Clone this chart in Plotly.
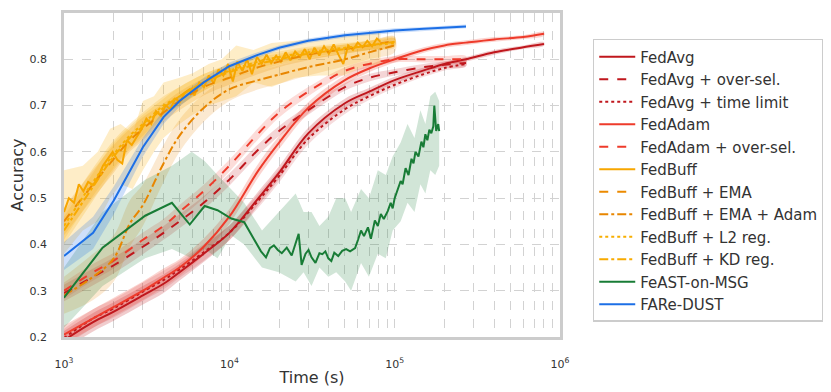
import plotly.graph_objects as go

# ---- data ----
# synchronous baselines share one time grid (s)
t_sync = [1000, 1500, 2000, 3000, 4000, 5000, 7000, 10000, 15000, 20000,
          30000, 50000, 70000, 100000, 150000, 200000, 270000, 400000, 600000, 800000]
fedavg = [0.193, 0.232, 0.255, 0.29, 0.315, 0.34, 0.38, 0.425, 0.50, 0.555,
          0.64, 0.705, 0.73, 0.755, 0.776, 0.79, 0.80, 0.815, 0.826, 0.833]
fedavg_sd = [0.02, 0.02, 0.02, 0.02, 0.02, 0.018, 0.018, 0.016, 0.015, 0.014,
             0.012, 0.01, 0.008, 0.007, 0.006, 0.005, 0.005, 0.005, 0.004, 0.004]
fedavg_os = [0.295, 0.33, 0.355, 0.395, 0.425, 0.45, 0.49, 0.54, 0.605, 0.645,
             0.69, 0.74, 0.76, 0.772, 0.783, 0.788, 0.792]
fedavg_tl = [0.198, 0.24, 0.262, 0.298, 0.323, 0.346, 0.383, 0.425, 0.495, 0.548,
             0.628, 0.692, 0.72, 0.745, 0.768, 0.781, 0.79]
fedadam = [0.205, 0.24, 0.265, 0.30, 0.328, 0.35, 0.395, 0.46, 0.56, 0.62,
           0.695, 0.755, 0.78, 0.80, 0.82, 0.83, 0.836, 0.843, 0.848, 0.855]
fedadam_os = [0.30, 0.34, 0.365, 0.41, 0.44, 0.47, 0.515, 0.57, 0.64, 0.685,
              0.73, 0.775, 0.79, 0.80, 0.80, 0.80, 0.80]
os_sd = [0.018, 0.018, 0.017, 0.016, 0.015, 0.015, 0.014, 0.013, 0.012, 0.011,
         0.01, 0.008, 0.008, 0.007, 0.007, 0.007, 0.007]

# asynchronous FedBuff variants
t_buff = [1000, 1500, 2000, 2500, 3000, 4000, 5000, 7000, 10000, 15000,
          20000, 30000, 50000, 70000, 100000]
fedbuff_ema = [0.45, 0.53, 0.585, 0.625, 0.65, 0.685, 0.71, 0.74, 0.76, 0.783,
               0.795, 0.81, 0.822, 0.83, 0.84]
fedbuff_ema_adam = [0.29, 0.33, 0.37, 0.445, 0.485, 0.575, 0.635, 0.695, 0.735, 0.755,
                    0.767, 0.783, 0.80, 0.815, 0.83]
fedbuff_l2 = [0.44, 0.535, 0.595, 0.635, 0.66, 0.70, 0.72, 0.75, 0.775, 0.795,
              0.805, 0.815, 0.825, 0.83, 0.835]
fedbuff_kd = [0.43, 0.525, 0.59, 0.63, 0.655, 0.695, 0.72, 0.75, 0.772, 0.79,
              0.80, 0.812, 0.822, 0.83, 0.838]
buff_sd = [0.03, 0.03, 0.03, 0.025, 0.025, 0.02, 0.02, 0.018, 0.015, 0.015,
           0.012, 0.012, 0.01, 0.01, 0.01]
ema_adam_sd = [0.04, 0.05, 0.05, 0.05, 0.045, 0.04, 0.035, 0.03, 0.025, 0.02,
               0.02, 0.018, 0.015, 0.015, 0.015]

t_fedbuff = [1000, 1070, 1150, 1230, 1310, 1400, 1500, 1600, 1720, 1840, 1970, 2100,
             2250, 2400, 2570, 2750, 2940, 3150, 3370, 3600, 3850, 4120, 4400, 4700,
             5030, 5380, 5750, 6150, 6580, 7030, 7520, 8040, 8600, 9200, 9830, 10500,
             11200, 12000, 12800, 13700, 14700, 15700, 16800, 17900, 19200, 20500,
             21900, 23400, 25000, 26800, 28600, 30600, 32700, 35000, 37400, 40000,
             42800, 45700, 48900, 52300, 55900, 59800, 63900, 68300, 73000, 78100, 82000]
fedbuff = [0.47, 0.50, 0.49, 0.53, 0.515, 0.535, 0.528, 0.545, 0.57, 0.585, 0.60, 0.583,
           0.575, 0.625, 0.615, 0.632, 0.648, 0.672, 0.66, 0.688, 0.678, 0.70, 0.692, 0.715,
           0.708, 0.728, 0.735, 0.722, 0.75, 0.74, 0.765, 0.748, 0.778, 0.765, 0.79, 0.752,
           0.795, 0.775, 0.80, 0.768, 0.805, 0.79, 0.81, 0.792, 0.808, 0.795,
           0.815, 0.798, 0.817, 0.805, 0.822, 0.80, 0.825, 0.808, 0.828, 0.812,
           0.832, 0.81, 0.79, 0.83, 0.82, 0.836, 0.826, 0.84, 0.828, 0.845, 0.838]
t_fedbuff_band = [1000, 1300, 1600, 1900, 2200, 2600, 3000, 3500, 4000, 5000, 6000,
                  7500, 9000, 11000, 14000, 18000, 25000, 35000, 50000, 65000, 82000]
fedbuff_hi = [0.56, 0.57, 0.60, 0.65, 0.66, 0.64, 0.71, 0.72, 0.75, 0.76, 0.77,
              0.79, 0.80, 0.83, 0.82, 0.835, 0.84, 0.845, 0.85, 0.855, 0.86]
fedbuff_lo = [0.38, 0.43, 0.45, 0.50, 0.53, 0.52, 0.56, 0.60, 0.63, 0.66, 0.68,
              0.70, 0.71, 0.72, 0.75, 0.74, 0.76, 0.765, 0.765, 0.785, 0.79]

# FeAST-on-MSG
t_feast = [1000, 1712, 3097, 4495, 5762, 7086, 8477, 10280, 12300, 14110, 15540, 16660,
           17600, 18600, 19650, 20770, 22250, 23840, 25190, 26260, 27360, 28920, 30130,
           31410, 33190, 35070, 36550, 38090, 39700, 41390, 43120, 45580, 48150, 50880,
           53760, 57620, 60050, 62590, 65230, 68920, 71840, 75900, 79100, 82460, 85940,
           90810, 94620, 97270, 100000, 104200, 108700, 111700, 116400, 121300, 126400,
           130000, 133600, 139300, 145100, 149200, 153400, 157700, 162100, 166600,
           171300, 173700, 178300, 183400, 185900]
feast = [0.285, 0.393, 0.462, 0.49, 0.443, 0.483, 0.474, 0.456, 0.448, 0.41, 0.385, 0.372,
         0.392, 0.398, 0.388, 0.381, 0.393, 0.376, 0.405, 0.423, 0.356, 0.38, 0.388,
         0.372, 0.36, 0.381, 0.379, 0.385, 0.37, 0.364, 0.382, 0.375, 0.386, 0.39,
         0.385, 0.392, 0.41, 0.43, 0.418, 0.437, 0.412, 0.452, 0.44, 0.466, 0.455,
         0.472, 0.49, 0.478, 0.50, 0.52, 0.537, 0.53, 0.565, 0.55, 0.585,
         0.575, 0.60, 0.59, 0.622, 0.61, 0.638, 0.625, 0.648, 0.64,
         0.655, 0.70, 0.645, 0.66, 0.645]
t_feast_band = [1000, 1712, 3097, 4495, 5923, 7086, 8477, 10280, 12300, 15760, 19930,
                25190, 28120, 31410, 35070, 39700, 44330, 50180, 54510, 62590, 69880,
                79100, 88330, 97270, 108700, 119600, 131800, 143100, 153400, 164300,
                176000, 185900]
feast_hi = [0.35, 0.47, 0.54, 0.57, 0.60, 0.58, 0.55, 0.52, 0.49, 0.43, 0.47, 0.51,
            0.47, 0.47, 0.44, 0.46, 0.50, 0.50, 0.47, 0.52, 0.50, 0.56, 0.55, 0.59,
            0.62, 0.66, 0.63, 0.69, 0.66, 0.72, 0.73, 0.71]
feast_lo = [0.22, 0.31, 0.37, 0.39, 0.37, 0.39, 0.37, 0.42, 0.40, 0.35, 0.34, 0.32,
            0.34, 0.31, 0.35, 0.33, 0.34, 0.32, 0.30, 0.36, 0.33, 0.38, 0.37, 0.43,
            0.45, 0.49, 0.47, 0.53, 0.51, 0.56, 0.55, 0.57]

# FARe-DUST
t_fare = [1000, 1500, 2000, 3000, 4000, 5000, 7000, 10000, 15000, 20000, 30000,
          50000, 70000, 100000, 150000, 200000, 270000]
fare = [0.375, 0.425, 0.495, 0.61, 0.675, 0.71, 0.75, 0.785, 0.81, 0.825, 0.84,
        0.852, 0.857, 0.862, 0.866, 0.868, 0.871]
fare_sd = [0.03, 0.035, 0.03, 0.02, 0.015, 0.012, 0.01, 0.008, 0.006, 0.005, 0.005,
           0.005, 0.005, 0.005, 0.004, 0.004, 0.004]

y_ticks = [0.2, 0.3, 0.4, 0.5, 0.6, 0.7, 0.8, 0.9]
x_ticks = [1e3, 1e4, 1e5, 1e6]
x_labels = ['10<sup>3</sup>', '10<sup>4</sup>', '10<sup>5</sup>', '10<sup>6</sup>']

fig = go.Figure()


def add_band(x, lo, hi, color, shape='spline'):
    fig.add_trace(go.Scatter(x=list(x) + list(x)[::-1], y=list(hi) + list(lo)[::-1],
                             fill='toself', fillcolor=color, line=dict(width=0, shape=shape),
                             hoverinfo='skip', showlegend=False, mode='lines'))


def pm(y, sd):
    return [a - b for a, b in zip(y, sd)], [a + b for a, b in zip(y, sd)]


# bands (drawn first, under the lines)
for y, sd, t, col in [
        (fedavg, fedavg_sd, t_sync, 'rgba(192,23,29,0.22)'),
        (fedavg_os, os_sd, t_sync[:17], 'rgba(192,23,29,0.18)'),
        (fedavg_tl, fedavg_sd[:17], t_sync[:17], 'rgba(192,23,29,0.15)'),
        (fedadam, fedavg_sd, t_sync, 'rgba(238,59,43,0.22)'),
        (fedadam_os, os_sd, t_sync[:17], 'rgba(238,59,43,0.18)'),
        (fedbuff_ema, buff_sd, t_buff, 'rgba(234,133,0,0.2)'),
        (fedbuff_ema_adam, ema_adam_sd, t_buff, 'rgba(234,133,0,0.18)'),
        (fedbuff_l2, buff_sd, t_buff, 'rgba(247,170,0,0.2)'),
        (fedbuff_kd, buff_sd, t_buff, 'rgba(247,170,0,0.2)')]:
    lo, hi = pm(y, sd)
    add_band(t, lo, hi, col)
add_band(t_fedbuff_band, fedbuff_lo, fedbuff_hi, 'rgba(250,175,0,0.22)', 'linear')
add_band(t_feast_band, feast_lo, feast_hi, 'rgba(24,124,54,0.2)', 'linear')
lo, hi = pm(fare, fare_sd)
add_band(t_fare, lo, hi, 'rgba(28,111,230,0.22)', 'linear')

# lines
lines = [
    ('FedAvg', t_sync, fedavg, '#c0171d', 'solid', 'spline'),
    ('FedAvg + over-sel.', t_sync[:17], fedavg_os, '#c0171d', 'dash', 'spline'),
    ('FedAvg + time limit', t_sync[:17], fedavg_tl, '#c0171d', 'dot', 'spline'),
    ('FedAdam', t_sync, fedadam, '#ee3b2b', 'solid', 'spline'),
    ('FedAdam + over-sel.', t_sync[:17], fedadam_os, '#ee3b2b', 'dash', 'spline'),
    ('FedBuff', t_fedbuff, fedbuff, '#f7a600', 'solid', 'linear'),
    ('FedBuff + EMA', t_buff, fedbuff_ema, '#ec8a00', 'dash', 'spline'),
    ('FedBuff + EMA + Adam', t_buff, fedbuff_ema_adam, '#e88600', 'dashdot', 'spline'),
    ('FedBuff + L2 reg.', t_buff, fedbuff_l2, '#f7ae00', 'dot', 'spline'),
    ('FedBuff + KD reg.', t_buff, fedbuff_kd, '#f8aa00', 'dashdot', 'spline'),
    ('FeAST-on-MSG', t_feast, feast, '#187c36', 'solid', 'linear'),
    ('FARe-DUST', t_fare, fare, '#1c6fe6', 'solid', 'linear'),
]
for name, t, y, col, dash, shape in lines:
    fig.add_trace(go.Scatter(x=t, y=y, mode='lines', name=name,
                             line=dict(color=col, width=2, dash=dash, shape=shape)))

# minor log gridlines at 2..9 of each decade
minor_vals = [k * 10 ** e for e in [3, 4, 5] for k in range(2, 10)]

# page body adds an 8px margin at left/top, so the figure is 8px smaller than the window
fig.update_layout(
    width=823, height=384,
    margin=dict(l=50, r=271, t=2, b=55),
    paper_bgcolor='white', plot_bgcolor='white',
    font=dict(family='DejaVu Sans', color='#333333'),
    xaxis=dict(type='log', range=[3, 6], tickvals=x_ticks, ticktext=x_labels,
               ticks='outside', ticklen=15, tickcolor='rgba(0,0,0,0)',
               tickfont=dict(size=11), showgrid=True, gridcolor='#d2d2d2',
               griddash='dash', gridwidth=1, showline=True, mirror=True,
               linecolor='#cccccc', linewidth=2.5, zeroline=False,
               minor=dict(tickvals=minor_vals, showgrid=True, gridcolor='#d2d2d2',
                          griddash='dash', gridwidth=1, ticks=''),
               title=dict(text='Time (s)', font=dict(size=16), standoff=2)),
    yaxis=dict(range=[0.2, 0.9], tickvals=y_ticks,
               ticktext=['%.1f' % v for v in y_ticks],
               ticks='outside', ticklen=12, tickcolor='rgba(0,0,0,0)',
               tickfont=dict(size=11), showgrid=True, gridcolor='#d2d2d2',
               griddash='dash', gridwidth=1, showline=True, mirror=True,
               linecolor='#cccccc', linewidth=2.5, zeroline=False,
               title=dict(text='Accuracy', font=dict(size=16), standoff=8)),
    legend=dict(x=1.066, y=0.92, xanchor='left', yanchor='top',
                font=dict(size=15, color='#333333'), bordercolor='#cccccc',
                borderwidth=1.5, bgcolor='white', itemwidth=36,
                tracegroupgap=0),
)

fig.write_html("out.html")
